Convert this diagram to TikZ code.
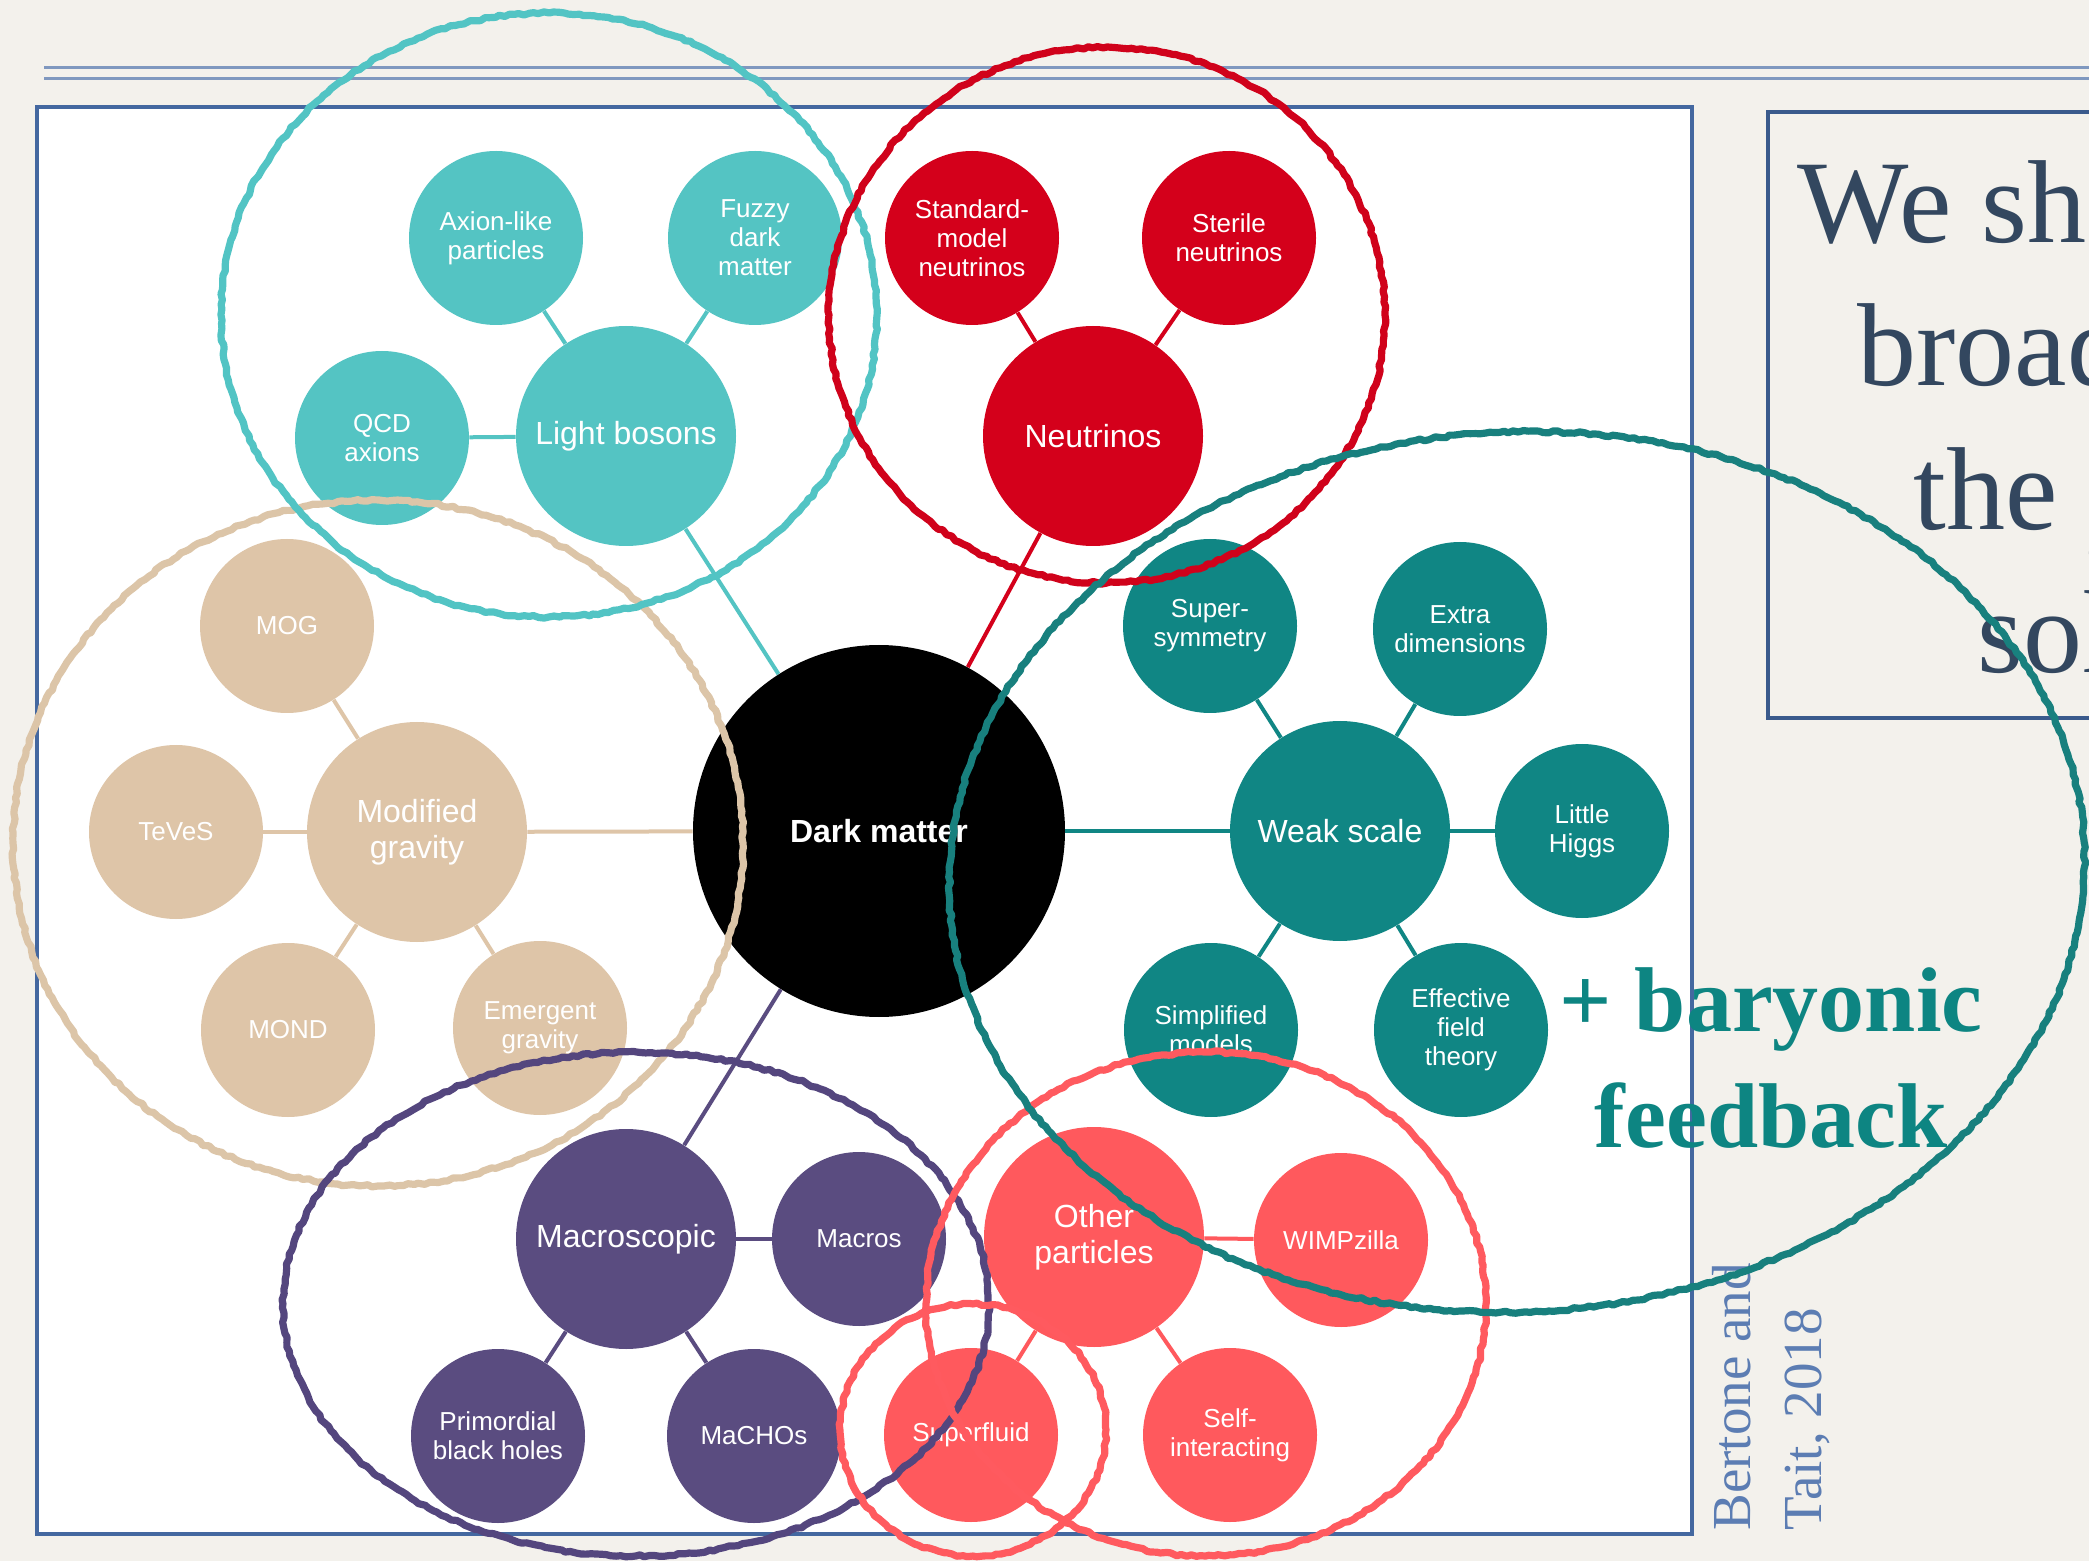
\documentclass[tikz,border=0pt]{standalone}
\usepackage{fontspec}
\setmainfont{Liberation Serif}
\newfontfamily\lsans{Liberation Sans}
\usetikzlibrary{decorations.pathmorphing}
\definecolor{paper}{RGB}{243,241,236}
\definecolor{frameblue}{RGB}{68,104,160}
\definecolor{boxblue}{RGB}{58,90,140}
\definecolor{ruleblue}{RGB}{127,152,191}
\definecolor{boxtext}{RGB}{51,71,95}
\definecolor{fbteal}{RGB}{13,133,130}
\definecolor{citeblue}{RGB}{92,125,179}
\definecolor{cLB}{RGB}{84,196,195}
\definecolor{cNU}{RGB}{212,0,27}
\definecolor{cWS}{RGB}{16,134,132}
\definecolor{cMG}{RGB}{222,197,168}
\definecolor{cMA}{RGB}{90,76,128}
\definecolor{cOP}{RGB}{255,89,93}
\definecolor{eLB}{RGB}{82,196,196}
\definecolor{eNU}{RGB}{208,2,27}
\definecolor{eWS}{RGB}{24,128,126}
\definecolor{eMG}{RGB}{220,197,168}
\definecolor{eMA}{RGB}{84,70,126}
\definecolor{eOP}{RGB}{255,90,95}
\pgfmathsetseed{7}
\begin{document}
\begin{tikzpicture}[x=0.5pt,y=-0.5pt,
  bub/.style={circle, fill=#1, inner sep=0pt, text=white, align=center},
  sat/.style={bub=#1, minimum size=87pt, font=\lsans\fontsize{13}{14.5}\selectfont},
  hub/.style={bub=#1, minimum size=110pt, font=\lsans\fontsize{16}{18}\selectfont},
  conn/.style={draw=#1, line width=2pt},
  chalk/.style={draw=#1, line width=3.6pt, line cap=round, line join=round, decorate,
     decoration={random steps, segment length=2.5pt, amplitude=0.6pt}},
  boxline/.style={anchor=base west, text=boxtext, inner sep=0pt, font=\fontsize{59}{59}\selectfont},
  fbline/.style={anchor=base, text=fbteal, inner sep=0pt, font=\bfseries\fontsize{46}{46}\selectfont},
  citeline/.style={rotate=90, anchor=base west, text=citeblue, inner sep=0pt, font=\fontsize{27.5}{27.5}\selectfont},
]
\useasboundingbox (0,0) rectangle (2089,1561);
\fill[paper] (0,0) rectangle (2089,1561);
\clip (0,0) rectangle (2089,1561);

% top rules
\draw[ruleblue, line width=1.5pt] (44,68) -- (2095,68);
\draw[ruleblue, line width=1.5pt] (44,79) -- (2095,79);

% image frame and text box
\draw[frameblue, line width=2pt, fill=white] (37,107) rectangle (1692,1534);
\draw[boxblue, line width=2pt] (1768,112) rectangle (2130,718);

% text box lines (cut by the slide edge)
\node[boxline] (w1) at (1797,243) {We sho};
\node[boxline] (w2) at (1857,386) {broad};
\node[boxline] (w3) at (1913,530) {the p};
\node[boxline] (w4) at (1977,673) {sol};

% nodes
\node[bub=black, minimum size=186pt, font=\lsans\bfseries\fontsize{16}{18}\selectfont] (DM) at (879,831) {Dark matter};

\node[hub=cLB] (LB) at (626,436) {Light bosons};
\node[sat=cLB] (AX) at (496,238) {Axion-like\\particles};
\node[sat=cLB] (FZ) at (755,238) {Fuzzy\\dark\\matter};
\node[sat=cLB] (QCD) at (382,438) {QCD\\axions};

\node[hub=cNU] (NU) at (1093,436) {Neutrinos};
\node[sat=cNU] (SM) at (972,238) {Standard-\\model\\neutrinos};
\node[sat=cNU] (ST) at (1229,238) {Sterile\\neutrinos};

\node[hub=cWS] (WS) at (1340,831) {Weak scale};
\node[sat=cWS] (SUSY) at (1210,626) {Super-\\symmetry};
\node[sat=cWS] (XD) at (1460,629) {Extra\\dimensions};
\node[sat=cWS] (LH) at (1582,831) {Little\\Higgs};
\node[sat=cWS] (SIM) at (1211,1030) {Simplified\\models};
\node[sat=cWS] (EFT) at (1461,1030) {Effective\\field\\theory};

\node[hub=cMG] (MG) at (417,832) {Modified\\gravity};
\node[sat=cMG] (MOG) at (287,626) {MOG};
\node[sat=cMG] (TV) at (176,832) {TeVeS};
\node[sat=cMG] (MOND) at (288,1030) {MOND};
\node[sat=cMG] (EG) at (540,1028) {Emergent\\gravity};

\node[hub=cMA] (MA) at (626,1239) {Macroscopic};
\node[sat=cMA] (MC) at (859,1239) {Macros};
\node[sat=cMA] (PBH) at (498,1436) {Primordial\\black holes};
\node[sat=cMA] (MCH) at (754,1436) {MaCHOs};

\node[hub=cOP] (OP) at (1094,1237) {Other\\particles};
\node[sat=cOP] (WZ) at (1341,1240) {WIMPzilla};
\node[sat=cOP] (SF) at (971,1435) {Superfluid};
\node[sat=cOP] (SI) at (1230,1435) {Self-\\interacting};

% connectors
\draw[conn=cLB] (DM) -- (LB);
\draw[conn=cNU] (DM) -- (NU);
\draw[conn=cWS] (DM) -- (WS);
\draw[conn=cMG] (DM) -- (MG);
\draw[conn=cMA] (DM) -- (MA);
\draw[conn=cLB] (LB) -- (AX);
\draw[conn=cLB] (LB) -- (FZ);
\draw[conn=cLB] (LB) -- (QCD);
\draw[conn=cNU] (NU) -- (SM);
\draw[conn=cNU] (NU) -- (ST);
\draw[conn=cWS] (WS) -- (SUSY);
\draw[conn=cWS] (WS) -- (XD);
\draw[conn=cWS] (WS) -- (LH);
\draw[conn=cWS] (WS) -- (SIM);
\draw[conn=cWS] (WS) -- (EFT);
\draw[conn=cMG] (MG) -- (MOG);
\draw[conn=cMG] (MG) -- (TV);
\draw[conn=cMG] (MG) -- (MOND);
\draw[conn=cMG] (MG) -- (EG);
\draw[conn=cMA] (MA) -- (MC);
\draw[conn=cMA] (MA) -- (PBH);
\draw[conn=cMA] (MA) -- (MCH);
\draw[conn=cOP] (OP) -- (WZ);
\draw[conn=cOP] (OP) -- (SF);
\draw[conn=cOP] (OP) -- (SI);

% annotations
\node[fbline] (fb1) at (1771,1031) {+ baryonic};
\node[fbline] (fb2) at (1771,1147) {feedback};
\node[citeline] (ct1) at (1750,1531) {Bertone and};
\node[citeline] (ct2) at (1821,1531) {Tait, 2018};

% hand-drawn ellipses
\draw[chalk=eMG] (378,843) ellipse [x radius=365, y radius=343];
\draw[chalk=eLB] (549,315) ellipse [x radius=328, y radius=302];
\draw[chalk=eNU] (1107,315) ellipse [x radius=278, y radius=268];
\draw[chalk=eMA] (636,1304) ellipse [x radius=353, y radius=252];
\draw[chalk=eOP] (1206,1304) ellipse [x radius=280, y radius=252];
\draw[chalk=eOP] (973,1430) ellipse [x radius=133, y radius=126];
\draw[chalk=eWS, rotate around={3:(1517,872)}] (1517,872) ellipse [x radius=568, y radius=440];
\end{tikzpicture}
\end{document}
